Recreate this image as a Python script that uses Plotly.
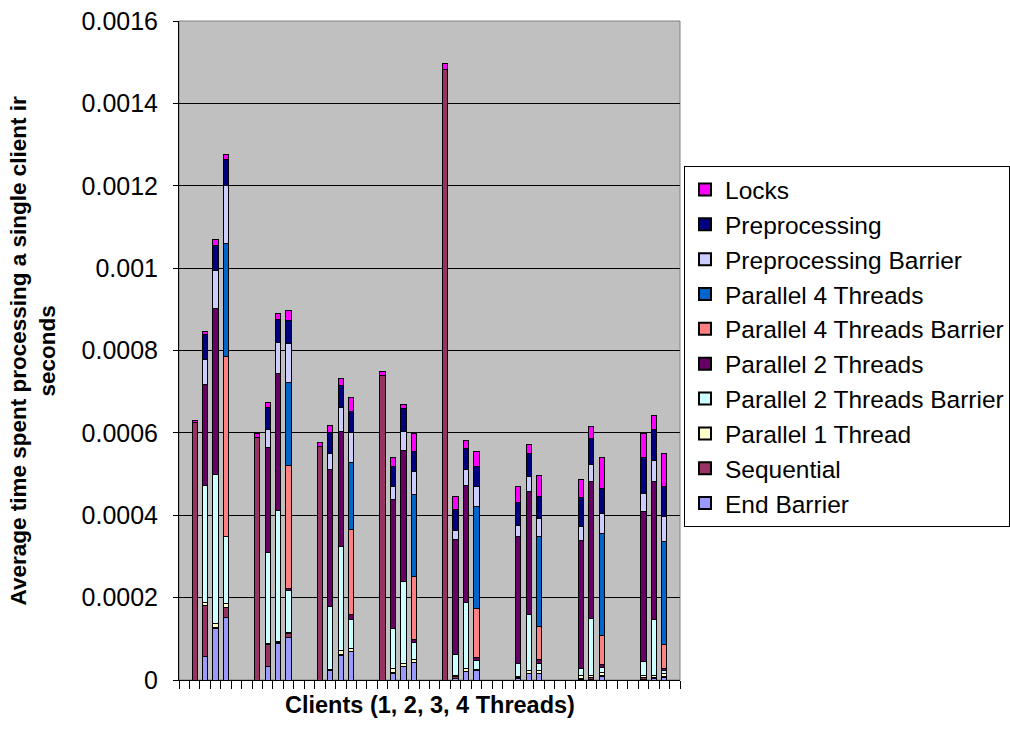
import plotly.graph_objects as go

# ---- data -------------------------------------------------------------
n_groups = 8
threads = [1, 2, 3, 4]          # bars inside each client group
x_title = "Clients (1, 2, 3, 4 Threads)"
y_title = "Average time spent processing a single client ir<br>seconds"
y_ticks = [0, 0.0002, 0.0004, 0.0006, 0.0008, 0.001, 0.0012, 0.0014, 0.0016]
y_ticklabels = ["0", "0.0002", "0.0004", "0.0006", "0.0008", "0.001", "0.0012", "0.0014", "0.0016"]

# values per group, in thread order [1, 2, 3, 4]; None = bar not present
end_barrier = [0, 0.000058, 0.000126, 0.000152,
               0, 0.000032, 0.000089, 0.000104,
               0, 0.000023, 0.000060, 0.000068,
               0, 0.000017, 0.000032, 0.000042,
               0, 0.000004, 0.000020, 0.000022,
               None, 0.000003, 0.000015, 0.000015,
               None, 0.000002, 0.000002, 0.000008,
               None, 0.000002, 0.000003, 0.000007]
sequential = [0.000625, 0.000122, 0.000002, 0.000025,
              0.000589, 0.000055, 0.000001, 0.000008,
              0.000568, 0.000001, 0.000001, 0.000001,
              0.000740, 0.000001, 0.000002, 0.000001,
              0.001483, 0.000004, 0.000001, 0.000001,
              None, 0.000004, 0.000001, 0.000001,
              None, 0.000002, 0.000005, 0.000003,
              None, 0.000005, 0.000002, 0.000002]
parallel_1 = [0, 0.000008, 0.000008, 0.000008,
              0, 0.000002, 0.000004, 0.000003,
              0, 0.000001, 0.000010, 0.000008,
              0, 0.000010, 0.000006, 0.000007,
              0, 0.000002, 0.000007, 0.000003,
              None, 0.000002, 0.000008, 0.000008,
              None, 0.000006, 0.000003, 0.000008,
              None, 0.000003, 0.000007, 0.000006]
parallel_2_barrier = [0, 0.000284, 0.000364, 0.000163,
                      0, 0.000220, 0.000317, 0.000102,
                      0, 0.000153, 0.000254, 0.000070,
                      0, 0.000097, 0.000199, 0.000041,
                      0, 0.000053, 0.000160, 0.000021,
                      None, 0.000031, 0.000135, 0.000016,
                      None, 0.000019, 0.000140, 0.000012,
                      None, 0.000036, 0.000135, 0.000008]
parallel_2 = [0, 0.000246, 0.000402, 0,
              0, 0.000256, 0.000333, 0.000006,
              0, 0.000332, 0.000279, 0.000011,
              0, 0.000313, 0.000319, 0.000008,
              0, 0.000277, 0.000285, 0.000008,
              None, 0.000308, 0.000298, 0.000010,
              None, 0.000310, 0.000331, 0.000007,
              None, 0.000364, 0.000336, 0.000006]
parallel_4_barrier = [0, 0, 0, 0.000438,
                      0, 0, 0, 0.000299,
                      0, 0, 0, 0.000208,
                      0, 0, 0, 0.000152,
                      0, 0, 0, 0.000119,
                      None, 0, 0, 0.000079,
                      None, 0, 0, 0.000069,
                      None, 0, 0, 0.000057]
parallel_4 = [0, 0, 0, 0.000274,
              0, 0, 0, 0.000201,
              0, 0, 0, 0.000163,
              0, 0, 0, 0.000200,
              0, 0, 0, 0.000247,
              None, 0, 0, 0.000220,
              None, 0, 0, 0.000249,
              None, 0, 0, 0.000251]
preprocessing_barrier = [0, 0.000061, 0.000093, 0.000140,
                         0, 0.000043, 0.000076, 0.000094,
                         0, 0.000039, 0.000058, 0.000072,
                         0, 0.000031, 0.000046, 0.000055,
                         0, 0.000023, 0.000037, 0.000048,
                         None, 0.000026, 0.000036, 0.000044,
                         None, 0.000034, 0.000043, 0.000049,
                         None, 0.000043, 0.000051, 0.000060]
preprocessing = [0, 0.000060, 0.000060, 0.000064,
                 0, 0.000054, 0.000056, 0.000056,
                 0, 0.000051, 0.000052, 0.000052,
                 0, 0.000049, 0.000055, 0.000050,
                 0, 0.000051, 0.000052, 0.000050,
                 None, 0.000056, 0.000056, 0.000053,
                 None, 0.000069, 0.000063, 0.000060,
                 None, 0.000087, 0.000074, 0.000072]
locks = [0.000006, 0.000006, 0.000015, 0.000012,
         0.000010, 0.000011, 0.000015, 0.000024,
         0.000008, 0.000018, 0.000017, 0.000033,
         0.000008, 0.000022, 0.000011, 0.000043,
         0.000015, 0.000032, 0.000019, 0.000037,
         None, 0.000041, 0.000024, 0.000050,
         None, 0.000045, 0.000028, 0.000075,
         None, 0.000059, 0.000035, 0.000080]

series_names = ["End Barrier", "Sequential", "Parallel 1 Thread",
                "Parallel 2 Threads Barrier", "Parallel 2 Threads",
                "Parallel 4 Threads Barrier", "Parallel 4 Threads",
                "Preprocessing Barrier", "Preprocessing", "Locks"]
series_values = [end_barrier, sequential, parallel_1, parallel_2_barrier,
                 parallel_2, parallel_4_barrier, parallel_4,
                 preprocessing_barrier, preprocessing, locks]
series_colors = ["#9999FF", "#993366", "#FFFFCC", "#CCFFFF", "#660066",
                 "#FF8080", "#0066CC", "#CCCCFF", "#000080", "#FF00FF"]

# ---- figure -----------------------------------------------------------
slots_per_group = 6   # blank, 4 bars, blank
x_pos = [g * slots_per_group + 1 + b for g in range(n_groups) for b in range(len(threads))]
n_slots = n_groups * slots_per_group

FONT = "Liberation Sans, Arial, sans-serif"
fig = go.Figure()
for name, vals, col in zip(series_names, series_values, series_colors):
    y = [v if v else None for v in vals]
    fig.add_trace(go.Bar(
        x=x_pos, y=y, name=name, width=0.5,
        marker=dict(color=col, line=dict(color="#000000", width=1)),
    ))

fig.update_layout(
    width=1010, height=741,
    barmode="stack",
    paper_bgcolor="#FFFFFF",
    plot_bgcolor="#C0C0C0",
    margin=dict(l=179, r=330, t=21, b=61, autoexpand=False),
    font=dict(family=FONT, size=25, color="#000000"),
    showlegend=True,
    legend=dict(
        x=(684 - 179) / 501, y=(680 - 166) / 659, xanchor="left", yanchor="top",
        traceorder="reversed",
        bgcolor="#FFFFFF", bordercolor="#000000", borderwidth=1,
        font=dict(family=FONT, size=24.5, color="#000000"),
        itemsizing="constant",
    ),
    xaxis=dict(
        range=[-0.5, n_slots - 0.5],
        tickvals=[k - 0.5 for k in range(n_slots + 1)],
        ticktext=["" for _ in range(n_slots + 1)],
        ticks="outside", ticklen=8, tickcolor="#000000", tickwidth=1,
        showgrid=False, zeroline=False,
        showline=True, linecolor="#000000", linewidth=1,
    ),
    yaxis=dict(
        range=[0, 0.0016],
        tickvals=y_ticks, ticktext=y_ticklabels,
        ticks="outside", ticklen=5, tickcolor="#000000", tickwidth=1,
        ticklabelstandoff=10,
        showgrid=True, gridcolor="#000000", gridwidth=1,
        zeroline=False,
        showline=True, linecolor="#000000", linewidth=1,
        tickfont=dict(family=FONT, size=25, color="#000000"),
    ),
    shapes=[dict(type="rect", xref="paper", yref="paper", x0=0, x1=1, y0=0, y1=1,
                 line=dict(color="#808080", width=1), layer="below")],
    annotations=[
        dict(text="<b>" + x_title + "</b>", xref="paper", yref="paper",
             x=0.5, y=(680 - 705) / 659, xanchor="center", yanchor="middle",
             showarrow=False, font=dict(family=FONT, size=23.5, color="#000000")),
        dict(text="<b>" + y_title + "</b>", xref="paper", yref="paper",
             x=(32 - 179) / 501, y=0.5, xanchor="center", yanchor="middle",
             textangle=-90, showarrow=False,
             font=dict(family=FONT, size=22.5, color="#000000")),
    ],
)

fig.write_html("out.html")
